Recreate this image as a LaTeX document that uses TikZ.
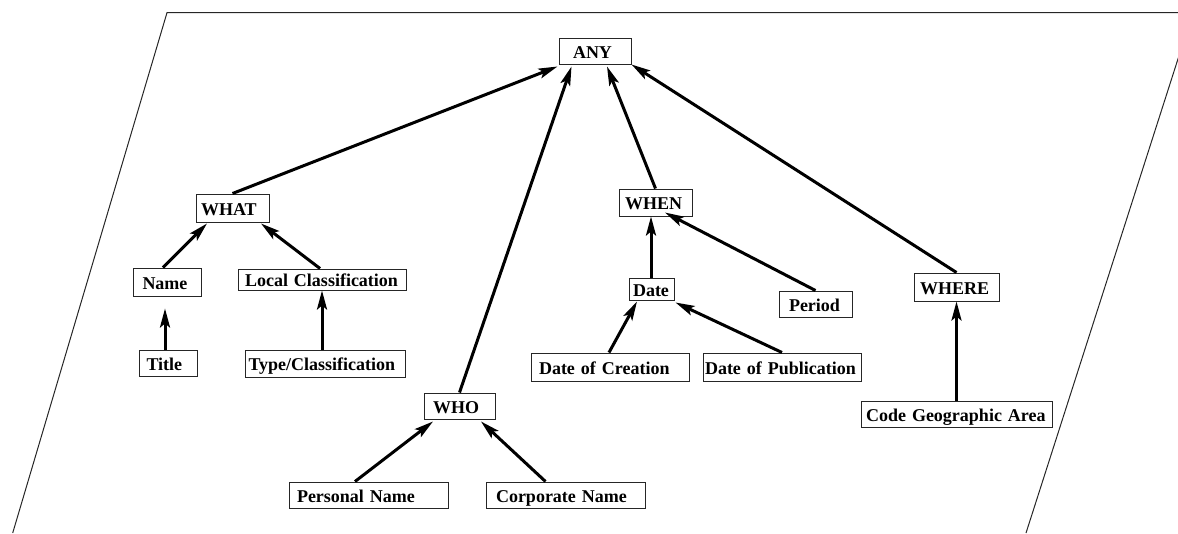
\documentclass[tikz,border=0pt]{standalone}
\usepackage{fontspec}
\setmainfont{Liberation Serif}
\usetikzlibrary{arrows.meta}
\begin{document}
\begin{tikzpicture}[x=1pt,y=-1pt,
  box/.style={draw=black!85, line width=1pt, rectangle, inner ysep=0pt,
    text height=14pt, text depth=0pt,
    align=left, font=\fontsize{18}{20}\selectfont\bfseries},
  arr/.style={line width=3pt, -{Stealth[length=19pt,width=10pt,inset=4pt]}},
  frame/.style={line width=1pt, draw=black!85}]
\useasboundingbox (0,0) rectangle (1178,533);

% slanted frame around the hierarchy
\begin{scope}
  \clip (0,0) rectangle (1178,533);
  \draw[frame] (12.7,533) -- (167,12.7) -- (1192.8,12.7) -- (1026,533);
\end{scope}

% boxes: text width + 2*inner xsep = box width
\node[box, minimum height=26pt, text width=44pt, inner xsep=14pt] (any)    at (595,51)    {\mbox{ANY}};
\node[box, minimum height=28pt, text width=63pt, inner xsep=5pt]  (what)   at (232.5,208) {\mbox{WHAT}};
\node[box, minimum height=28pt, text width=49pt, inner xsep=9.5pt] (name)  at (167,282)   {\mbox{Name}};
\node[box, minimum height=21pt, text width=154pt, inner xsep=7pt] (lc)     at (322,279.5) {\mbox{Local Classification}};
\node[box, minimum height=26pt, text width=43pt, inner xsep=7.5pt] (title) at (168,363)   {\mbox{Title}};
\node[box, minimum height=27pt, text width=153pt, inner xsep=3.5pt] (tc)   at (325,363.5) {\mbox{Type/Classification}};
\node[box, minimum height=27pt, text width=61pt, inner xsep=6pt]  (when)   at (655.5,202.5) {\mbox{WHEN}};
\node[box, minimum height=22pt, text width=37pt, inner xsep=4pt]  (date)   at (651.5,289) {\mbox{Date}};
\node[box, minimum height=26pt, text width=53pt, inner xsep=10pt] (period) at (815.5,304) {\mbox{Period}};
\node[box, minimum height=28pt, text width=142pt, inner xsep=8pt] (doc)    at (610,367)   {\mbox{Date of Creation}};
\node[box, minimum height=28pt, text width=154pt, inner xsep=2pt] (dop)    at (782,367)   {\mbox{Date of Publication}};
\node[box, minimum height=26pt, text width=53pt, inner xsep=9pt]  (who)    at (459.5,406) {\mbox{WHO}};
\node[box, minimum height=26pt, text width=143pt, inner xsep=8pt] (pn)     at (368.5,495) {\mbox{Personal Name}};
\node[box, minimum height=26pt, text width=139pt, inner xsep=10pt] (cn)    at (565.5,495) {\mbox{Corporate Name}};
\node[box, minimum height=28pt, text width=73pt, inner xsep=6pt]  (where)  at (956.5,287) {\mbox{WHERE}};
\node[box, minimum height=26pt, text width=181pt, inner xsep=5pt] (cga)    at (956.5,414) {\mbox{Code Geographic Area}};

% top level
\draw[arr] (what.north) -- ([xshift=-1pt,yshift=-2pt]any.south west);
\draw[arr] (who.north) -- ([xshift=13pt,yshift=-2pt]any.south west);
\draw[arr] (when.north) -- ([xshift=12pt,yshift=-2pt]any.south);
\draw[arr] (where.north) -- (any.south east);

% WHAT branch
\draw[arr] ([xshift=-4pt]name.north) -- ([xshift=-25.5pt,yshift=-1pt]what.south);
\draw[arr] ([xshift=-2pt]lc.north) -- ([xshift=28.5pt,yshift=-1pt]what.south);
\draw[arr] ([xshift=-3pt]title.north) -- ([xshift=-2pt,yshift=-12pt]name.south);
\draw[arr] ([xshift=-3pt]tc.north) -- (lc.south);

% WHEN branch
\draw[arr] ([xshift=-0.5pt]date.north) -- ([xshift=-4.5pt]when.south);
\draw[arr] (period.north) -- ([xshift=9.5pt,yshift=4pt]when.south);
\draw[arr] ([xshift=-1pt]doc.north) -- ([xshift=-14.5pt,yshift=-1pt]date.south);
\draw[arr] (dop.north) -- ([xshift=1pt,yshift=-2pt]date.south east);

% WHO branch
\draw[arr] ([xshift=-13.5pt]pn.north) -- ([xshift=-26.5pt,yshift=-2pt]who.south);
\draw[arr] ([xshift=-20pt]cn.north) -- ([xshift=21.5pt,yshift=-2pt]who.south);

% WHERE branch
\draw[arr] (cga.north) -- (where.south);
\end{tikzpicture}
\end{document}
